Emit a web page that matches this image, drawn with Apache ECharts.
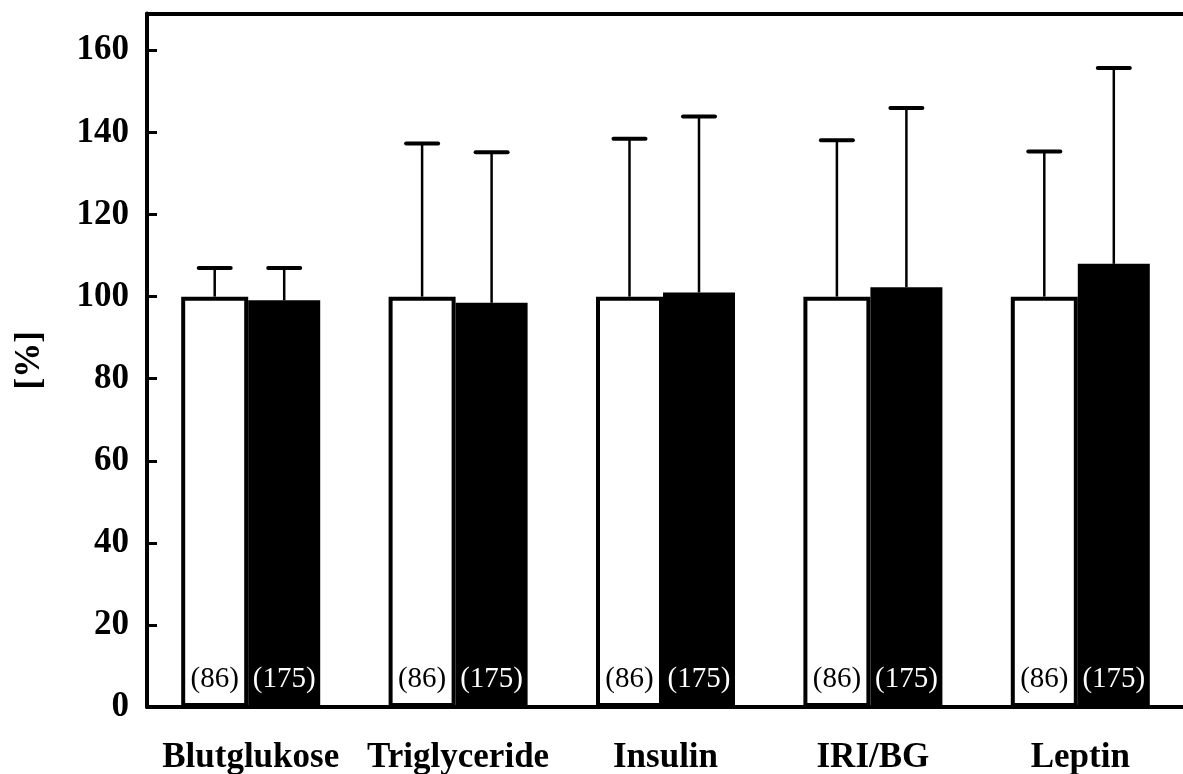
<!DOCTYPE html>
<html>
<head>
<meta charset="utf-8">
<script src="https://cdn.jsdelivr.net/npm/echarts@6/dist/echarts.min.js"></script>
<style>
  html, body { margin: 0; padding: 0; background: #fff; }
  #chart { width: 1183px; height: 774px; }
</style>
</head>
<body>
<div id="chart"></div>
<script>
// Parameters, relative values in percent of the reference group
const categories = ['Blutglukose', 'Triglyceride', 'Insulin', 'IRI/BG', 'Leptin'];
const meanRef = [100, 100, 100, 100, 100];          // white bars
const meanCmp = [99.1, 98.5, 101.0, 102.3, 108.0];  // black bars
const sdRef = [7.0, 37.3, 38.5, 38.1, 35.4];        // upper whisker length, white
const sdCmp = [7.9, 36.7, 42.9, 43.7, 47.7];        // upper whisker length, black
const nRef = '(86)';
const nCmp = '(175)';
const yTickStep = 20;

const SERIF = 'Liberation Serif, Times New Roman, serif';
const W_REF = 67, W_CMP = 72;
const startOff = -(W_REF + W_CMP) / 2;
const offRef = startOff + W_REF / 2;
const offCmp = startOff + W_REF + W_CMP / 2;

// Upper whisker with a horizontal cap, drawn over each bar
function whisker(offset, means, sds) {
  return {
    type: 'custom',
    z: 5,
    data: means.map((m, i) => [i, m, m + sds[i]]),
    renderItem: function (params, api) {
      const i = api.value(0);
      const base = api.coord([i, api.value(1)]);
      const tip = api.coord([i, api.value(2)]);
      const x = base[0] + offset;
      return {
        type: 'group',
        children: [
          { type: 'line', shape: { x1: x, y1: base[1], x2: x, y2: tip[1] },
            style: { stroke: '#000', lineWidth: 2.5 } },
          { type: 'line', shape: { x1: x - 16, y1: tip[1], x2: x + 16, y2: tip[1] },
            style: { stroke: '#000', lineWidth: 4, lineCap: 'round' } }
        ]
      };
    }
  };
}

const chart = echarts.init(document.getElementById('chart'));
chart.setOption({
  animation: false,
  backgroundColor: '#fff',
  grid: { left: 147, top: 13.5, width: 1037, bottom: 67, outerBoundsMode: 'none', containLabel: false },
  xAxis: [
    {
      type: 'category',
      data: categories,
      axisLine: { lineStyle: { color: '#000', width: 4 } },
      axisTick: { show: false },
      axisLabel: { interval: 0, color: '#000', fontFamily: SERIF, fontWeight: 'bold', fontSize: 35, margin: 33 },
      z: 10
    },
    {
      type: 'category',
      data: categories,
      position: 'top',
      axisLine: { lineStyle: { color: '#000', width: 4 } },
      axisTick: { show: false },
      axisLabel: { show: false },
      z: 10
    }
  ],
  yAxis: {
    type: 'value',
    min: 0,
    max: 169,
    interval: yTickStep,
    name: '[%]',
    nameLocation: 'middle',
    nameGap: 100,
    nameTextStyle: { color: '#000', fontFamily: SERIF, fontWeight: 'bold', fontSize: 35 },
    splitLine: { show: false },
    axisLine: { show: true, lineStyle: { color: '#000', width: 4 } },
    axisTick: { show: true, inside: true, length: 10, lineStyle: { color: '#000', width: 3 } },
    axisLabel: { color: '#000', fontFamily: SERIF, fontWeight: 'bold', fontSize: 35, margin: 18, showMaxLabel: false },
    z: 10
  },
  series: [
    {
      type: 'bar',
      data: meanRef,
      barWidth: W_REF,
      barGap: '0%',
      itemStyle: { color: '#fff', borderColor: '#000', borderWidth: 4 },
      label: {
        show: true, position: 'insideBottom', distance: 13,
        formatter: nRef, color: '#000', fontFamily: SERIF, fontSize: 29
      }
    },
    {
      type: 'bar',
      data: meanCmp,
      barWidth: W_CMP,
      barGap: '0%',
      itemStyle: { color: '#000' },
      label: {
        show: true, position: 'insideBottom', distance: 13,
        formatter: nCmp, color: '#fff', fontFamily: SERIF, fontSize: 29
      }
    },
    whisker(offRef, meanRef, sdRef),
    whisker(offCmp, meanCmp, sdCmp)
  ]
});
</script>
</body>
</html>
